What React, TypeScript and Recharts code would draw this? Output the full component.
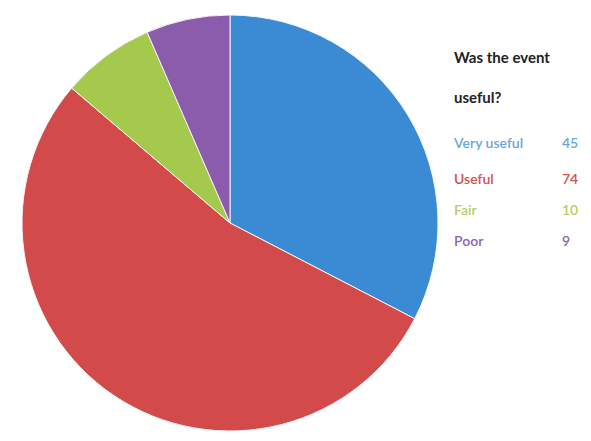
import { PieChart, Pie, Cell } from 'recharts'

// answers to "Was the event useful?"
const LABELS = ['Very useful', 'Useful', 'Fair', 'Poor']
const COUNTS = [45, 74, 10, 9]
const COLORS = ['#3a8bd3', '#d24a4a', '#a4c94c', '#8a5cab']
const TEXT_COLORS = ['#6aa6dc', '#d2504e', '#b5cf62', '#8d63ad']

const rows = LABELS.map((name, i) => ({ name, value: COUNTS[i] }))

const FONT = 'Lato, "Open Sans", sans-serif'

export default function App() {
  return (
    <div style={{ position: 'fixed', left: 0, top: 0, width: 591, height: 441, background: '#fff', fontFamily: FONT }}>
      <PieChart width={591} height={441} margin={{ top: 0, right: 0, bottom: 0, left: 0 }}>
        <Pie
          data={rows}
          dataKey="value"
          cx={230}
          cy={223}
          outerRadius={208}
          startAngle={90}
          endAngle={-270}
          stroke="#f4f4f4"
          strokeWidth={1}
          isAnimationActive={false}
        >
          {rows.map((_, i) => <Cell key={i} fill={COLORS[i]} />)}
        </Pie>
      </PieChart>
      <div style={{ position: 'absolute', left: 454, top: 37, width: 120, fontSize: 15, fontWeight: 700, color: '#222', lineHeight: '40px' }}>
        Was the event<br />useful?
      </div>
      {rows.map((r, i) => (
        <div key={r.name} style={{ position: 'absolute', left: 454, top: 134 + [0, 36, 67, 98][i], width: 130, fontSize: 14, fontWeight: 600, color: TEXT_COLORS[i] }}>
          <span>{r.name}</span>
          <span style={{ position: 'absolute', left: 108 }}>{r.value}</span>
        </div>
      ))}
    </div>
  )
}
